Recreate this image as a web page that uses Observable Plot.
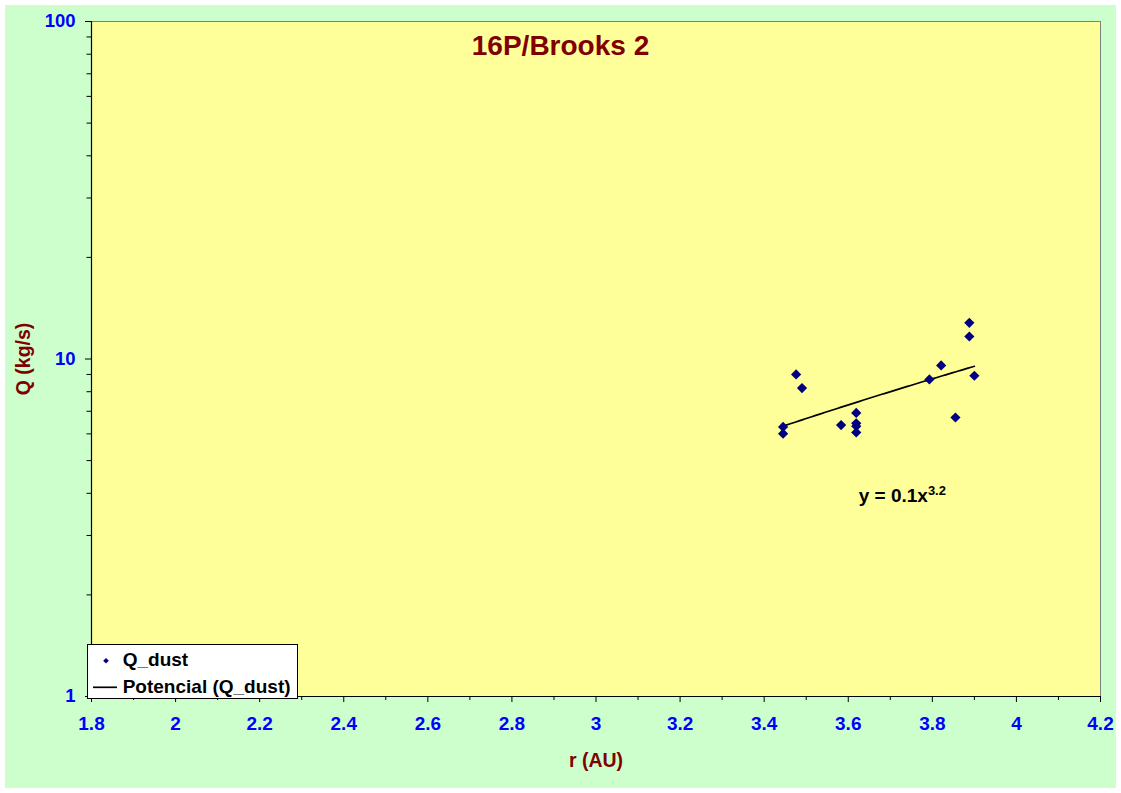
<!DOCTYPE html>
<html>
<head>
<meta charset="utf-8">
<script src="https://cdn.jsdelivr.net/npm/d3@7"></script>
<script src="https://cdn.jsdelivr.net/npm/@observablehq/plot@0.6"></script>
<style>
  html, body { margin: 0; padding: 0; background: #ffffff; }
  #wrap { padding: 5px; width: 1111px; height: 783px; }
  #wrap svg { display: block; }
</style>
</head>
<body>
<div id="wrap"></div>
<script>
// ---- data ----
const rAU   = [3.888, 3.888, 3.821, 3.793, 3.900, 3.855, 3.476, 3.490, 3.445, 3.445, 3.583, 3.619, 3.619, 3.619, 3.619];
const Qdust = [12.8, 11.66, 9.57, 8.70, 8.92, 6.71, 9.00, 8.20, 6.29, 6.01, 6.37, 6.92, 6.45, 6.32, 6.06];

const xTicks = [1.8, 2, 2.2, 2.4, 2.6, 2.8, 3, 3.2, 3.4, 3.6, 3.8, 4, 4.2];
const xMinor = [1.9, 2.1, 2.3, 2.5, 2.7, 2.9, 3.1, 3.3, 3.5, 3.7, 3.9, 4.1];
const yTicks = [1, 10, 100];
const yMinor = [2, 3, 4, 5, 6, 7, 8, 9, 20, 30, 40, 50, 60, 70, 80, 90];

const titleText = "16P/Brooks 2";
const xLabel = "r (AU)";
const yLabel = "Q (kg/s)";
const seriesName = "Q_dust";
const trendName = "Potencial (Q_dust)";
const eqMain = "y = 0.1x";
const eqExp = "3.2";
const eqPos = {x: 3.626, y: 3.75};

// ---- power-law trendline (least squares in log-log) ----
const lx = rAU.map(Math.log), ly = Qdust.map(Math.log);
const mx = d3.mean(lx), my = d3.mean(ly);
const bFit = d3.sum(lx, (v, i) => (v - mx) * (ly[i] - my)) / d3.sum(lx, v => (v - mx) ** 2);
const aFit = Math.exp(my - bFit * mx);
const [xMin, xMax] = d3.extent(rAU);
const trend = d3.range(0, 61).map(i => {
  const x = xMin + (xMax - xMin) * i / 60;
  return {x, y: aFit * Math.pow(x, bFit)};
});

const points = rAU.map((r, i) => ({r, q: Qdust[i]}));

const FONT = "'Liberation Sans', Arial, Helvetica, sans-serif";
const diamond = d3.symbolDiamond2 || "diamond2";

const plot = Plot.plot({
  width: 1111,
  height: 783,
  marginLeft: 86,
  marginRight: 16,
  marginTop: 16,
  marginBottom: 92,
  style: {background: "#CCFFCC", fontFamily: FONT, fontWeight: "bold", fontSize: "18px", color: "black"},
  x: {domain: [1.8, 4.2]},
  y: {type: "log", domain: [1, 100]},
  marks: [
    Plot.frame({fill: "#FFFF99", stroke: "#808080"}),
    Plot.ruleX([1.8], {stroke: "black", strokeWidth: 1.2}),
    Plot.ruleY([1], {stroke: "black", strokeWidth: 1.2}),
    Plot.axisX(xMinor, {tickSize: 4, tickFormat: () => "", label: null, stroke: "black"}),
    Plot.axisX(xTicks, {tickSize: 6, tickPadding: 14, stroke: "black", fill: "#0000FF",
      fontSize: 19, fontWeight: "bold", tickFormat: d => String(d), label: null}),
    Plot.axisY(yMinor, {tickSize: 4.5, tickFormat: () => "", label: null, stroke: "black"}),
    Plot.axisY(yTicks, {tickSize: 6, tickPadding: 10, stroke: "black", fill: "#0000FF",
      fontSize: 18.5, fontWeight: "bold", tickFormat: d => String(d), label: null}),
    Plot.line(trend, {x: "x", y: "y", stroke: "black", strokeWidth: 1.7}),
    Plot.dot(points, {x: "r", y: "q", symbol: diamond, r: 4.6, fill: "#000080", stroke: "none"}),
    Plot.text([titleText], {frameAnchor: "top", dx: -35.5, dy: 25, fill: "#800000",
      fontSize: 28, fontWeight: "bold", lineAnchor: "middle", textAnchor: "middle"}),
    Plot.text([xLabel], {frameAnchor: "bottom", dy: 64, fill: "#800000",
      fontSize: 19.5, fontWeight: "bold", lineAnchor: "middle", textAnchor: "middle"}),
    Plot.text([yLabel], {frameAnchor: "left", dx: -68, rotate: -90, fill: "#800000",
      fontSize: 19.5, fontWeight: "bold", lineAnchor: "middle", textAnchor: "middle"})
  ]
});

document.getElementById("wrap").appendChild(plot);

// ---- equation label with superscript ----
const svg = d3.select(plot);
const sx = plot.scale("x"), sy = plot.scale("y");
const eq = svg.append("text")
  .attr("x", sx.apply(eqPos.x))
  .attr("y", sy.apply(eqPos.y))
  .attr("text-anchor", "start")
  .attr("font-family", FONT)
  .attr("font-weight", "bold")
  .attr("font-size", 19)
  .attr("fill", "black");
eq.append("tspan").text(eqMain);
eq.append("tspan").attr("dy", -7).attr("font-size", 13).text(eqExp);

// ---- legend box ----
const lg = svg.append("g")
  .attr("font-family", FONT)
  .attr("font-weight", "bold")
  .attr("font-size", 19)
  .attr("text-anchor", "start")
  .attr("fill", "black");
lg.append("rect")
  .attr("x", 82.5).attr("y", 639.5)
  .attr("width", 210).attr("height", 54)
  .attr("fill", "white").attr("stroke", "black");
lg.append("path")
  .attr("d", d3.symbol(d3.symbolDiamond2 || d3.symbolDiamond, 20)())
  .attr("transform", "translate(101,655.7)")
  .attr("fill", "#000080");
lg.append("text").attr("x", 117.7).attr("y", 661).attr("text-anchor", "start").text(seriesName);
lg.append("line")
  .attr("x1", 88).attr("x2", 112).attr("y1", 682.3).attr("y2", 682.3)
  .attr("stroke", "black").attr("stroke-width", 1.7);
lg.append("text").attr("x", 117.7).attr("y", 688).attr("text-anchor", "start").text(trendName);
</script>
</body>
</html>
